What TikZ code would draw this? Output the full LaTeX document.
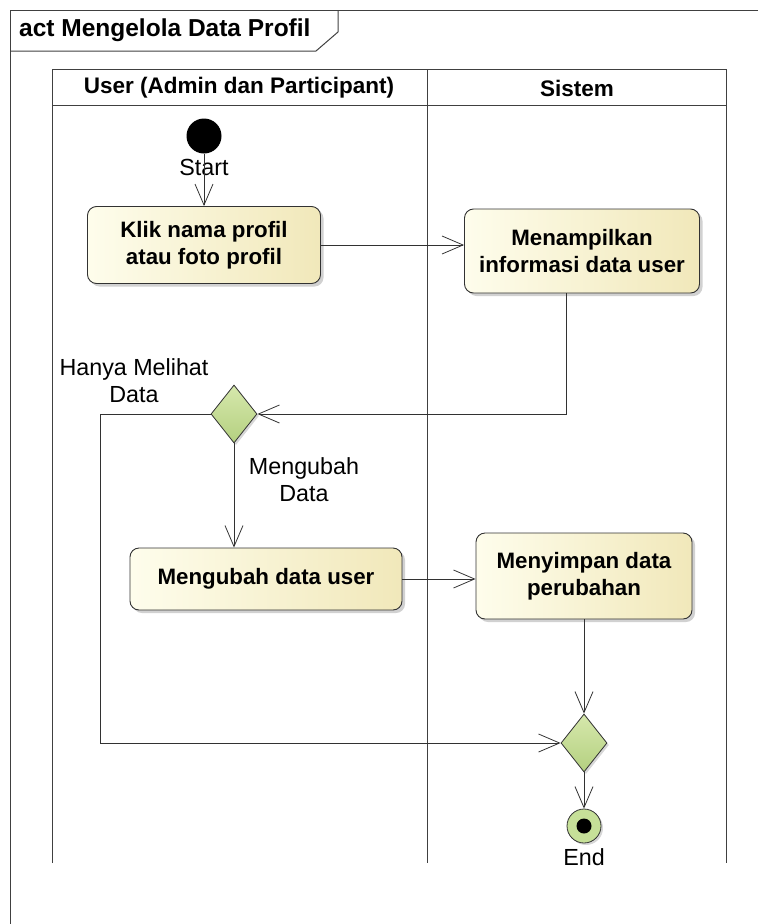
\documentclass[tikz,border=0pt]{standalone}
\usepackage{fontspec}
\setmainfont{Liberation Sans}
\usetikzlibrary{arrows.meta,shapes.geometric,shadows,calc}

\definecolor{actlight}{RGB}{254,253,236}
\definecolor{actdark}{RGB}{241,232,186}
\definecolor{declight}{RGB}{214,232,172}
\definecolor{decgreen}{RGB}{180,208,128}
\definecolor{endgreen}{RGB}{198,224,152}
\definecolor{linegray}{RGB}{50,50,50}

\tikzset{
  action/.style={rectangle, rounded corners=9pt, draw=linegray, line width=0.9pt,
    left color=actlight, right color=actdark, align=center, inner sep=0pt,
    font=\fontsize{22.3}{27}\selectfont\bfseries,
    drop shadow={shadow xshift=3pt, shadow yshift=-3pt, fill=black!45, opacity=0.4}},
  decision/.style={diamond, draw=linegray, line width=0.8pt, inner sep=0pt,
    top color=declight, bottom color=decgreen, minimum width=46pt, minimum height=58pt,
    drop shadow={shadow xshift=2pt, shadow yshift=-2pt, fill=black!45, opacity=0.35}},
  flow/.style={draw=linegray, line width=0.8pt, -{Straight Barb[length=21pt,width=18pt]}},
  guard/.style={font=\fontsize{23.3}{27}\selectfont, align=center, inner sep=0pt},
  lane/.style={draw=black!75, line width=1pt},
}

\begin{document}
\begin{tikzpicture}[x=1pt, y=-1pt]
\useasboundingbox (0,0) rectangle (758,924);

% frame and title tag
\draw[lane] (758,10) -- (10,10) -- (10,924);
\draw[lane] (10,51) -- (316,51) -- (338,32) -- (338,10);
\node[anchor=west, inner sep=0pt, font=\fontsize{24.5}{28}\selectfont\bfseries] (judul) at (19,30) {act Mengelola Data Profil};

% swimlanes
\draw[lane] (52,863) -- (52,69) -- (726,69) -- (726,863);
\draw[lane] (427,69) -- (427,863);
\draw[lane] (52,105) -- (726,105);
\node[font=\fontsize{22.5}{27}\selectfont\bfseries] (laneuser) at (239,88) {User (Admin dan Participant)};
\node[font=\fontsize{22.5}{27}\selectfont\bfseries] (lanesistem) at (577,88) {Sistem};

% nodes
\node[circle, fill=black, minimum size=35pt, inner sep=0pt] (mulai) at (204,136) {};
\node[guard] (lblmulai) at (204,167) {Start};
\node[action, minimum width=233pt, minimum height=77pt] (klik) at (204,245) {Klik nama profil\\atau foto profil};
\node[action, minimum width=235pt, minimum height=84pt] (tampil) at (582,251) {Menampilkan\\informasi data user};
\node[decision] (pilih) at (234,414) {};
\node[guard] (lbllihat) at (134,381) {Hanya Melihat\\Data};
\node[guard] (lblubah) at (304,480) {Mengubah\\Data};
\node[action, minimum width=272pt, minimum height=62pt] (ubah) at (266,579) {Mengubah data user};
\node[action, minimum width=216pt, minimum height=86pt] (simpan) at (584,576) {Menyimpan data\\perubahan};
\node[decision] (gabung) at (584,743) {};
\node[circle, draw=linegray, line width=0.8pt, fill=endgreen, minimum size=34pt, inner sep=0pt,
  drop shadow={shadow xshift=2pt, shadow yshift=-2pt, fill=black!45, opacity=0.35}] (akhir) at (584,826) {};
\node[circle, fill=black, minimum size=15pt, inner sep=0pt] (akhirdot) at (akhir.center) {};
\node[guard] (lblakhir) at (584,857) {End};

% connectors
\draw[flow] (mulai.south) -- (klik.north);
\draw[flow] (klik.east) -- (klik.east -| tampil.west);
\draw[flow] ($(tampil.south)+(-16,0)$) |- (pilih.east);
\draw[flow] (pilih.west) -- ++(-110,0) |- (gabung.west);
\draw[flow] (pilih.south) -- (pilih.south |- ubah.north);
\draw[flow] (ubah.east) -- (ubah.east -| simpan.west);
\draw[flow] (simpan.south) -- (gabung.north);
\draw[flow] (gabung.south) -- (akhir.north);

\end{tikzpicture}
\end{document}
